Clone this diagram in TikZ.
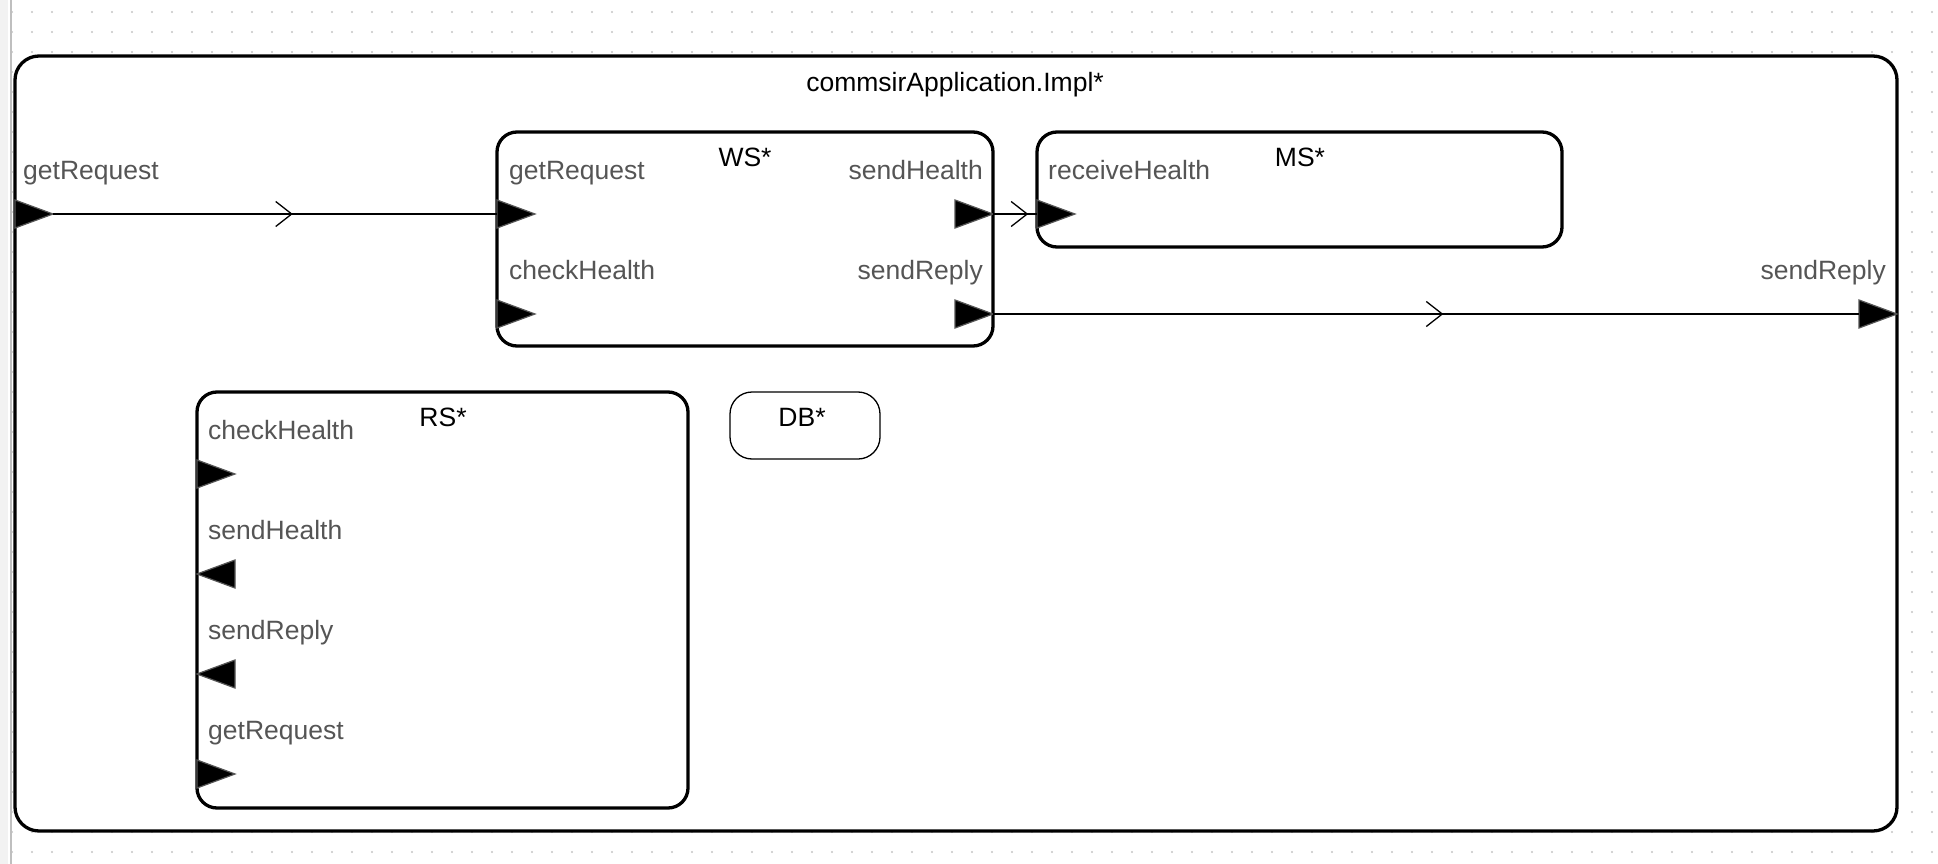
\documentclass[tikz,border=0pt]{standalone}
\usepackage{fontspec}
\setmainfont{Liberation Sans}
\usetikzlibrary{shapes.geometric,arrows.meta,decorations.markings}

\definecolor{portgray}{HTML}{555555}
\definecolor{dotgray}{HTML}{C4C4C4}
\newcommand{\diafont}{\fontsize{26.5}{32}\selectfont}

\tikzset{
	compbox/.style={draw=black, fill=white, line width=3.3pt, rounded corners=20pt,
		inner sep=0pt, outer sep=0pt, anchor=north west},
	ctitle/.style={text=black, font=\diafont, inner sep=0pt, anchor=base},
	plabel/.style={text=portgray, font=\diafont, inner sep=0pt},
	portr/.style={isosceles triangle, isosceles triangle stretches, shape border rotate=0,
		minimum width=28pt, minimum height=38pt, inner sep=0pt, outer sep=0pt,
		fill=black, draw=portgray, line width=1.2pt},
	portl/.style={portr, shape border rotate=180},
	conn/.style={draw=black, line width=1.3pt, postaction={decorate},
		decoration={markings, mark=at position #1 with {\arrow{Straight Barb[length=16pt, width=25pt]}}}},
	conn/.default=0.53,
	griddot/.style={draw=dotgray, line width=2.2pt, line cap=round, dash pattern=on 0pt off 20pt}
}

\begin{document}
\begin{tikzpicture}[x=1pt, y=-1pt]

	\useasboundingbox (0,0) rectangle (1938,864);

	% canvas
	\foreach \y in {12,32,...,852}
		\draw[griddot] (12,\y) -- (1933,\y);
	\fill[black!5] (0,0) rectangle (8,864);
	\draw[black!25, line width=1.5pt] (11,0) -- (11,864);

	% components
	\node[compbox, rounded corners=24pt, minimum width=1882pt, minimum height=775pt] (app) at (15,56) {};
	\node[ctitle] (app-title) at (955,92) {commsirApplication.Impl*};

	\node[compbox, minimum width=496pt, minimum height=214pt] (ws) at (497,132) {};
	\node[ctitle] (ws-title) at (745,166) {WS*};

	\node[compbox, minimum width=525pt, minimum height=115pt] (ms) at (1037,132) {};
	\node[ctitle] (ms-title) at (1300,166) {MS*};

	\node[compbox, minimum width=491pt, minimum height=416pt] (rs) at (197,392) {};
	\node[ctitle] (rs-title) at (443,426) {RS*};

	\node[compbox, line width=1.3pt, rounded corners=22pt, minimum width=150pt, minimum height=67pt] (db) at (730,392) {};
	\node[ctitle] (db-title) at (802,426) {DB*};

	% ports
	\node[portr, anchor=lower side] (app-get) at (15,214) {};
	\node[portr, anchor=apex]       (app-rep) at (1897,314) {};
	\node[plabel, anchor=base west] (app-get-l) at (23,179) {getRequest};
	\node[plabel, anchor=base east] (app-rep-l) at (1886,279) {sendReply};

	\node[portr, anchor=lower side] (ws-get) at (497,214) {};
	\node[portr, anchor=lower side] (ws-chk) at (497,314) {};
	\node[portr, anchor=apex]       (ws-snh) at (993,214) {};
	\node[portr, anchor=apex]       (ws-rep) at (993,314) {};
	\node[plabel, anchor=base west] (ws-get-l) at (509,179) {getRequest};
	\node[plabel, anchor=base west] (ws-chk-l) at (509,279) {checkHealth};
	\node[plabel, anchor=base east] (ws-snh-l) at (983,179) {sendHealth};
	\node[plabel, anchor=base east] (ws-rep-l) at (983,279) {sendReply};

	\node[portr, anchor=lower side] (ms-rcv) at (1037,214) {};
	\node[plabel, anchor=base west] (ms-rcv-l) at (1048,179) {receiveHealth};

	\node[portr, anchor=lower side] (rs-chk) at (197,474) {};
	\node[portl, anchor=apex]       (rs-snh) at (197,574) {};
	\node[portl, anchor=apex]       (rs-rep) at (197,674) {};
	\node[portr, anchor=lower side] (rs-get) at (197,774) {};
	\node[plabel, anchor=base west] (rs-chk-l) at (208,439) {checkHealth};
	\node[plabel, anchor=base west] (rs-snh-l) at (208,539) {sendHealth};
	\node[plabel, anchor=base west] (rs-rep-l) at (208,639) {sendReply};
	\node[plabel, anchor=base west] (rs-get-l) at (208,739) {getRequest};

	% connections
	\draw[conn=0.54] (app-get.apex) -- (ws-get.lower side);
	\draw[conn=0.8] (ws-snh.apex) -- (ms-rcv.lower side);
	\draw[conn=0.52] (ws-rep.apex) -- (app-rep.lower side);

\end{tikzpicture}
\end{document}
